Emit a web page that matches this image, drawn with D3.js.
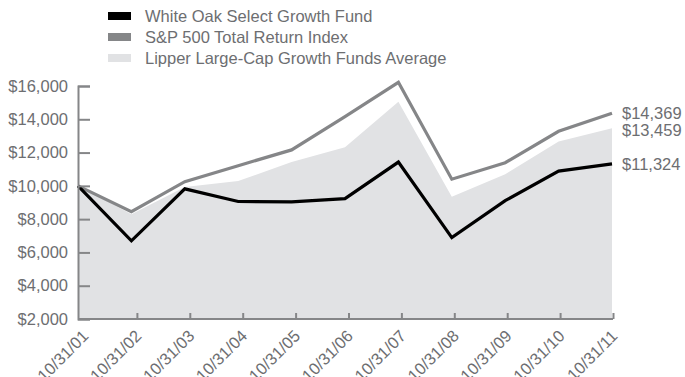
<!DOCTYPE html>
<html>
<head>
<meta charset="utf-8">
<script src="https://cdn.jsdelivr.net/npm/d3@7"></script>
<style>
  body { margin: 0; background: #fff; }
  text { font-family: "Liberation Sans", Arial, sans-serif; fill: #6d6e71; }
</style>
</head>
<body>
<div id="chart"></div>
<script>
const dates = ["10/31/01", "10/31/02", "10/31/03", "10/31/04", "10/31/05", "10/31/06",
  "10/31/07", "10/31/08", "10/31/09", "10/31/10", "10/31/11"];
const fund = [10000, 6700, 9820, 9060, 9040, 9230, 11430, 6890, 9110, 10890, 11324];
const sp500 = [10000, 8450, 10250, 11210, 12160, 14160, 16220, 10400, 11390, 13280, 14369];
const lipper = [10000, 8300, 9930, 10290, 11430, 12320, 15060, 9350, 10700, 12670, 13459];
const yTicks = [2000, 4000, 6000, 8000, 10000, 12000, 14000, 16000];
const legendNames = ["White Oak Select Growth Fund", "S&P 500 Total Return Index",
  "Lipper Large-Cap Growth Funds Average"];

const width = 685;
const height = 377;
const fontSize = "16.5px";
const svg = d3.select("#chart").append("svg")
  .attr("width", width)
  .attr("height", height);

const x = d3.scalePoint().domain(dates).range([78, 612]);
// the date ticks sit a little to the right of the data points
const xTick = d3.scalePoint().domain(dates).range([84, 613]);
const y = d3.scaleLinear().domain([2000, 16000]).range([319, 86]);
const fmt = d3.format("$,");

// lipper area
const area = d3.area()
  .x((d, i) => x(dates[i]))
  .y0(y(2000))
  .y1(d => y(d));

svg.append("path")
  .datum(lipper)
  .attr("d", area)
  .attr("fill", "#e1e2e4");

const line = d3.line()
  .x((d, i) => x(dates[i]))
  .y(d => y(d));

svg.append("path")
  .datum(sp500)
  .attr("d", line)
  .attr("fill", "none")
  .attr("stroke", "#858688")
  .attr("stroke-width", 3.2);

svg.append("path")
  .datum(fund)
  .attr("d", line)
  .attr("fill", "none")
  .attr("stroke", "#000")
  .attr("stroke-width", 3.2);

// axes
const yAxis = svg.append("g")
  .attr("transform", "translate(78,0)")
  .call(d3.axisLeft(y).tickValues(yTicks).tickFormat(fmt).tickSize(-12).tickPadding(10));

const xAxis = svg.append("g")
  .attr("transform", "translate(0,319)")
  .call(d3.axisBottom(xTick).tickSize(-6).tickSizeOuter(0));

xAxis.select(".domain").attr("d", "M78,0H613");
xAxis.select(".tick line").remove();

[yAxis, xAxis].forEach(function(a) {
  a.select(".domain").attr("stroke", "#858688").attr("stroke-width", 2);
  a.selectAll(".tick line").attr("stroke", "#858688").attr("stroke-width", 2);
  a.selectAll("text").attr("font-size", fontSize).attr("fill", "#6d6e71");
});

xAxis.selectAll("text")
  .attr("text-anchor", "end")
  .attr("y", 0)
  .attr("dy", "0.35em")
  .attr("transform", "translate(1,14) rotate(-45)");

// end labels
const ends = [sp500, lipper, fund];
const endShift = [0, 2, 0];
svg.selectAll(".end")
  .data(ends)
  .enter()
  .append("text")
  .attr("class", "end")
  .attr("x", 622)
  .attr("y", (d, i) => y(d[d.length - 1]) + endShift[i])
  .attr("dy", "0.35em")
  .attr("font-size", fontSize)
  .text(d => fmt(d[d.length - 1]));

// legend
const legendColors = ["#000", "#858688", "#e1e2e4"];
const legend = svg.selectAll(".legend")
  .data(legendNames)
  .enter()
  .append("g")
  .attr("class", "legend")
  .attr("transform", (d, i) => "translate(108," + (16 + i * 21) + ")");

legend.append("rect")
  .attr("x", 0)
  .attr("y", -4)
  .attr("width", 23)
  .attr("height", 8)
  .attr("fill", (d, i) => legendColors[i]);

legend.append("text")
  .attr("x", 37)
  .attr("dy", "0.35em")
  .attr("font-size", fontSize)
  .text(d => d);
</script>
</body>
</html>
